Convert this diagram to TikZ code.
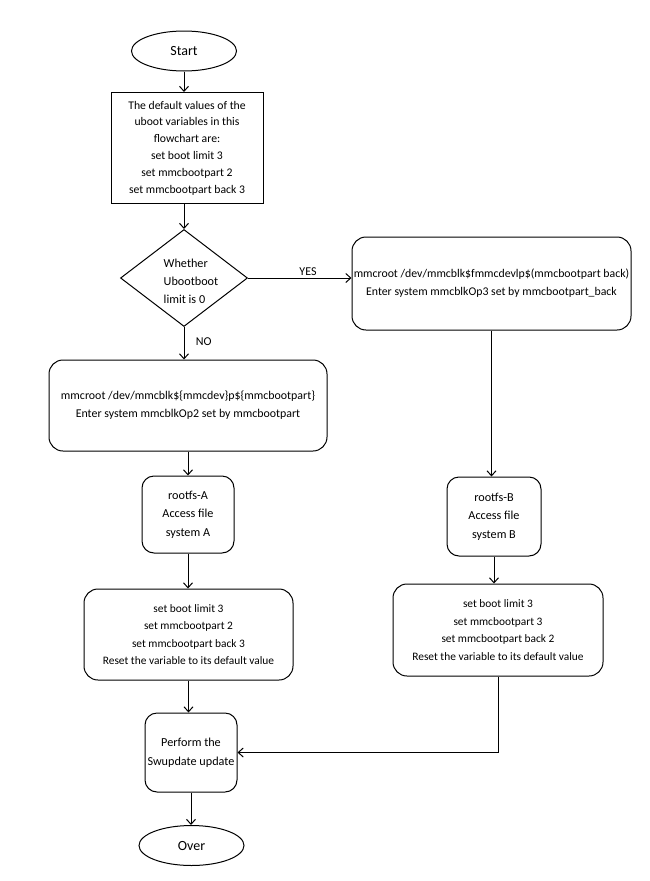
\documentclass[tikz,border=0pt]{standalone}
\usepackage{fontspec}
\setmainfont{Carlito}
\usetikzlibrary{shapes.geometric,arrows.meta,positioning}

\begin{document}
\begin{tikzpicture}[
            x=1pt, y=-1pt,
            line width=1pt,
            >={Straight Barb[length=5pt,width=9pt]},
            term/.style={
                draw,
                ellipse,
                minimum width=105pt,
                minimum height=40pt,
                inner sep=0pt,
                font=\fontsize{14}{16}\selectfont
            },
            box/.style={
                draw,
                rectangle,
                align=center,
                inner sep=0pt,
                font=\fontsize{11.7}{16.8}\selectfont
            },
            rbox/.style={
                draw,
                rectangle,
                rounded corners=14pt,
                align=center,
                inner sep=0pt,
                font=\fontsize{11.4}{17.6}\selectfont
            },
            smallbox/.style={
                rbox,
                rounded corners=12pt,
                font=\fontsize{12.2}{18.6}\selectfont
            },
            decision/.style={
                draw,
                diamond,
                minimum width=127pt,
                minimum height=97pt,
                inner sep=0pt
            },
            lbl/.style={font=\fontsize{12}{14}\selectfont},
            arrow/.style={->}
        ]
        \useasboundingbox (0,0) rectangle (650,881);

        \node[term] (start) at (184,51) {Start};
        \node[box, minimum width=152pt, minimum height=111pt] (defbox) at (187,148) {The default values of the\\ uboot variables in this\\ flowchart are:\\ set boot limit 3\\ set mmcbootpart 2\\ set mmcbootpart back 3};
        \node[decision] (dec) at (184,278) {};
        \node[align=left, font=\fontsize{12.2}{18}\selectfont] (dectext) at (191,281) {Whether\\ Ubootboot\\ limit is 0};

        \node[rbox, font=\fontsize{11.8}{18}\selectfont, minimum width=279pt, minimum height=93pt] (rightbox) at (491.5,283.5) {mmcroot /dev/mmcblk\$fmmcdevlp\$(mmcbootpart back)\\ Enter system mmcblkOp3 set by mmcbootpart\_back};
        \node[rbox, font=\fontsize{11.9}{18}\selectfont, minimum width=278pt, minimum height=91pt] (leftbox) at (188,405.5) {mmcroot /dev/mmcblk\$\{mmcdev\}p\$\{mmcbootpart\}\\ Enter system mmcblkOp2 set by mmcbootpart};

        \node[smallbox, minimum width=92pt, minimum height=77pt] (rootfsA) at (188,514.5) {rootfs-A\\ Access file\\ system A};
        \node[rbox, minimum width=209pt, minimum height=91pt] (resetA) at (188.5,634.5) {set boot limit 3\\ set mmcbootpart 2\\ set mmcbootpart back 3\\ Reset the variable to its default value};
        \node[smallbox, minimum width=94pt, minimum height=79pt] (rootfsB) at (494,516.5) {rootfs-B\\ Access file\\ system B};
        \node[rbox, minimum width=210pt, minimum height=92pt] (resetB) at (498,630) {set boot limit 3\\ set mmcbootpart 3\\ set mmcbootpart back 2\\ Reset the variable to its default value};

        \node[smallbox, minimum width=92pt, minimum height=79pt] (perform) at (191,752.5) {Perform the\\ Swupdate update};
        \node[term] (over) at (191.5,845.5) {Over};

        % main path
        \draw[arrow] (start.south) -- (start.south |- defbox.north);
        \draw[arrow] (dec.north |- defbox.south) -- (dec.north);
        \draw[arrow] (dec.east) -- node[lbl, above, inner sep=2pt, pos=0.58]{YES} (dec.east -| rightbox.west);
        \draw[arrow] (dec.south) -- node[lbl, right, xshift=8pt, pos=0.45]{NO} (dec.south |- leftbox.north);
        \draw[arrow] (leftbox.south) -- (rootfsA.north);
        \draw[arrow] (rootfsA.south) -- (rootfsA.south |- resetA.north);
        \draw[arrow] (resetA.south) -- (resetA.south |- perform.north);
        \draw[arrow] (perform.south) -- (perform.south |- over.north);

        % right branch
        \draw[arrow] (rightbox.south) -- (rightbox.south |- rootfsB.north);
        \draw[arrow] (rootfsB.south) -- (rootfsB.south |- resetB.north);
        \draw[arrow] (resetB.south) |- (perform.east);

        \end{tikzpicture}
\end{document}
